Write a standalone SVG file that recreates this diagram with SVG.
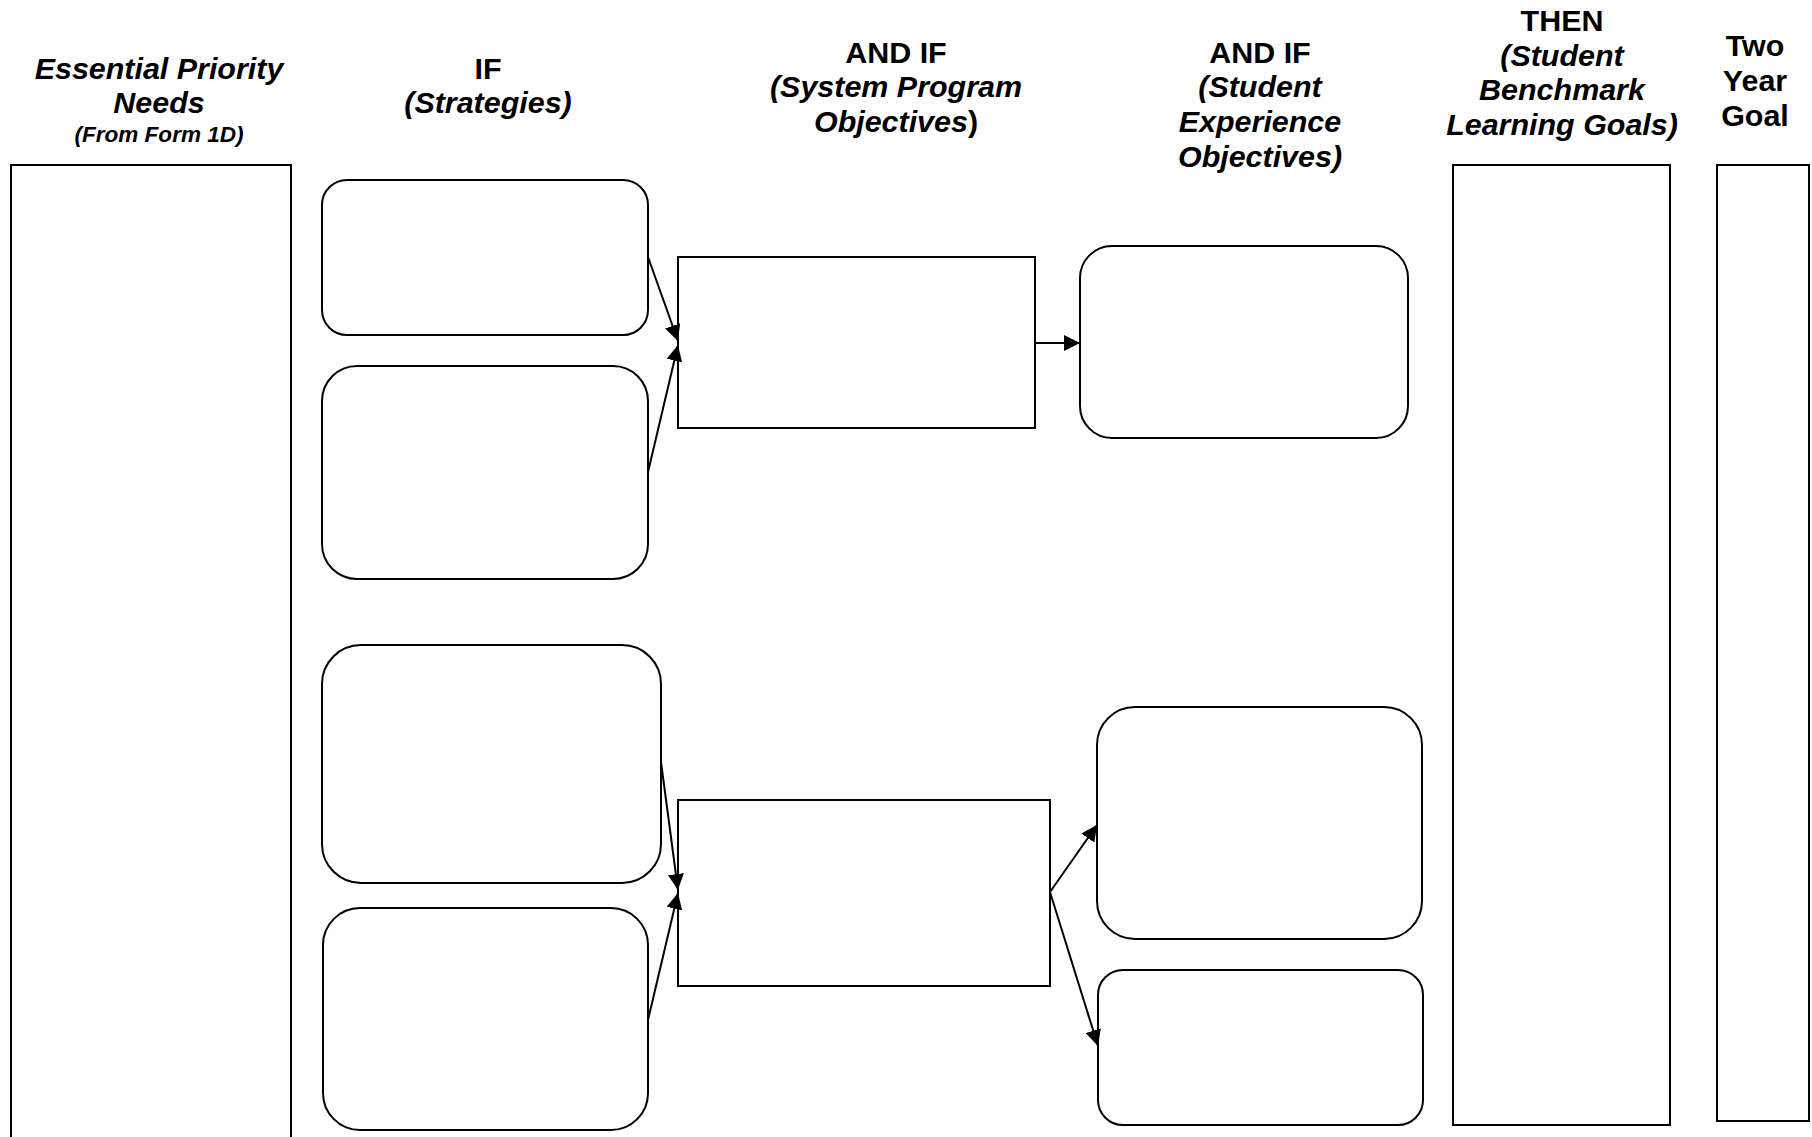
<svg xmlns="http://www.w3.org/2000/svg" width="1812" height="1137" viewBox="0 0 1812 1137">
<style>
.box{fill:#fff;stroke:#000;stroke-width:2}
.conn{stroke:#000;stroke-width:2;fill:none}
.h{font-family:"Liberation Sans",Arial,sans-serif;font-weight:bold;font-size:29px;text-anchor:middle;fill:#000}
.i{font-style:italic}
.s{font-size:21.5px}
</style>
<defs>
<marker id="arr" markerUnits="userSpaceOnUse" markerWidth="16" markerHeight="16" refX="16" refY="8" orient="auto">
<path d="M0,0 L16,8 L0,16 z" fill="#000"/>
</marker>
</defs>
<rect width="1812" height="1137" fill="#fff"/>

<g id="headers">
<g transform="translate(159,0) scale(1.05,1)">
<text class="h i" x="0" y="79">Essential Priority</text>
<text class="h i" x="0" y="113">Needs</text>
<text class="h i s" x="0" y="142">(From Form 1D)</text>
</g>
<g transform="translate(488,0) scale(1.05,1)">
<text class="h" x="0" y="79">IF</text>
<text class="h i" x="0" y="113">(Strategies)</text>
</g>
<g transform="translate(896,0) scale(1.05,1)">
<text class="h" x="0" y="63">AND IF</text>
<text class="h i" x="0" y="97">(System Program</text>
<text class="h" x="0" y="132"><tspan class="i">Objectives</tspan>)</text>
</g>
<g transform="translate(1260,0) scale(1.05,1)">
<text class="h" x="0" y="63">AND IF</text>
<text class="h i" x="0" y="97">(Student</text>
<text class="h i" x="0" y="132">Experience</text>
<text class="h i" x="0" y="167">Objectives)</text>
</g>
<g transform="translate(1562,0) scale(1.05,1)">
<text class="h" x="0" y="31">THEN</text>
<text class="h i" x="0" y="66">(Student</text>
<text class="h i" x="0" y="100">Benchmark</text>
<text class="h i" x="0" y="135">Learning Goals)</text>
</g>
<g transform="translate(1755,0) scale(1.05,1)">
<text class="h" x="0" y="56">Two</text>
<text class="h" x="0" y="91">Year</text>
<text class="h" x="0" y="126">Goal</text>
</g>
</g>

<g id="needs"><rect class="box" x="11" y="165" width="280" height="1000"/></g>
<g id="strategy1"><rect class="box" x="322" y="180" width="326" height="155" rx="25" ry="25"/></g>
<g id="strategy2"><rect class="box" x="322" y="366" width="326" height="213" rx="35" ry="35"/></g>
<g id="strategy3"><rect class="box" x="322" y="645" width="339" height="238" rx="39" ry="39"/></g>
<g id="strategy4"><rect class="box" x="323" y="908" width="325" height="222" rx="37" ry="37"/></g>
<g id="system1"><rect class="box" x="678" y="257" width="357" height="171"/></g>
<g id="system2"><rect class="box" x="678" y="800" width="372" height="186"/></g>
<g id="experience1"><rect class="box" x="1080" y="246" width="328" height="192" rx="32" ry="32"/></g>
<g id="experience2"><rect class="box" x="1097" y="707" width="325" height="232" rx="38" ry="38"/></g>
<g id="experience3"><rect class="box" x="1098" y="970" width="325" height="155" rx="25" ry="25"/></g>
<g id="benchmark"><rect class="box" x="1453" y="165" width="217" height="960"/></g>
<g id="twoyear"><rect class="box" x="1717" y="165" width="92" height="956"/></g>

<g id="connectors">
<line class="conn" x1="648" y1="257" x2="678" y2="341" marker-end="url(#arr)"/>
<line class="conn" x1="648" y1="472" x2="678" y2="345" marker-end="url(#arr)"/>
<line class="conn" x1="1035" y1="343" x2="1080" y2="343" marker-end="url(#arr)"/>
<line class="conn" x1="661" y1="762" x2="678" y2="890" marker-end="url(#arr)"/>
<line class="conn" x1="648" y1="1020" x2="678" y2="893" marker-end="url(#arr)"/>
<line class="conn" x1="1050" y1="892" x2="1097" y2="825" marker-end="url(#arr)"/>
<line class="conn" x1="1050" y1="892" x2="1098" y2="1046" marker-end="url(#arr)"/>
</g>
</svg>
